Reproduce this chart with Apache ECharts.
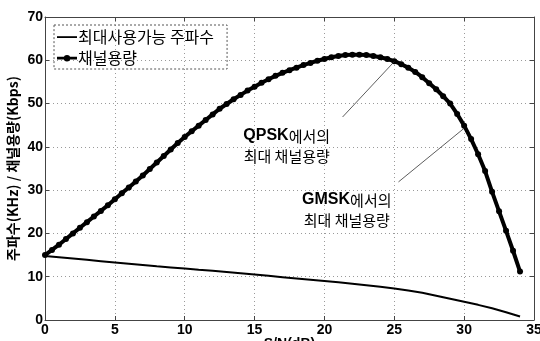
<!DOCTYPE html>
<html>
<head>
<meta charset="utf-8">
<script src="https://cdn.jsdelivr.net/npm/echarts@6/dist/echarts.min.js"></script>
<style>
  html, body { margin: 0; padding: 0; background: #fff; }
  #chart { width: 540px; height: 341px; }
</style>
</head>
<body>
<div id="chart"></div>
<script>
// S/N (dB) sample points, 0.5 dB apart
const snrDb = [
  0, 0.5, 1, 1.5, 2, 2.5, 3, 3.5, 4, 4.5, 5, 5.5, 6, 6.5, 7, 7.5, 8, 8.5, 9, 9.5,
  10, 10.5, 11, 11.5, 12, 12.5, 13, 13.5, 14, 14.5, 15, 15.5, 16, 16.5, 17, 17.5,
  18, 18.5, 19, 19.5, 20, 20.5, 21, 21.5, 22, 22.5, 23, 23.5, 24, 24.5, 25, 25.5,
  26, 26.5, 27, 27.5, 28, 28.5, 29, 29.5, 30, 30.5, 31, 31.5, 32, 32.5, 33, 33.5, 34
];

// channel capacity (Kbps)
const capacity = [
  15.0, 16.2, 17.4, 18.7, 20.0, 21.3, 22.6, 23.9, 25.2, 26.5, 27.9, 29.3, 30.6, 32.0,
  33.4, 34.9, 36.4, 37.9, 39.4, 40.9, 42.3, 43.6, 44.9, 46.2, 47.5, 48.8, 49.9, 51.0,
  52.0, 53.0, 53.9, 54.8, 55.6, 56.4, 57.1, 57.7, 58.3, 58.9, 59.4, 59.9, 60.3, 60.7,
  61.0, 61.2, 61.3, 61.3, 61.2, 61.0, 60.7, 60.3, 59.8, 59.1, 58.3, 57.3, 56.1, 54.7,
  53.3, 51.7, 50.0, 47.6, 44.9, 41.8, 38.3, 34.4, 29.6, 25.1, 20.6, 16.0, 11.2
];

// maximum usable frequency (KHz), 1 dB apart
const freqDb = [
  0, 1, 2, 3, 4, 5, 6, 7, 8, 9, 10, 11, 12, 13, 14, 15, 16, 17,
  18, 19, 20, 21, 22, 23, 24, 25, 26, 27, 28, 29, 30, 31, 32, 33, 34
];
const maxFreq = [
  14.8, 14.5, 14.2, 13.9, 13.6, 13.3, 13.0, 12.7, 12.4, 12.15, 11.9, 11.6, 11.35, 11.1,
  10.8, 10.5, 10.2, 9.9, 9.6, 9.3, 9.0, 8.7, 8.4, 8.05, 7.7, 7.3, 6.8, 6.3, 5.6, 4.9,
  4.2, 3.5, 2.7, 1.8, 0.8
];

// axis ticks
const xTicks = [0, 5, 10, 15, 20, 25, 30, 35];
const yTicks = [0, 10, 20, 30, 40, 50, 60, 70];

// legend names and axis titles
const seriesNames = ['최대사용가능 주파수', '채널용량'];
const xTitle = 'S/N(dB)';
const yTitle = '주파수(KHz) / 채널용량(Kbps)';

// callouts: pointer start, pointer end on the curve, text anchor
const qpskPointer = [[21.3, 46.9], [25.0, 59.7]];
const qpskTextAt = [17.3, 40.2];
const gmskPointer = [[25.3, 31.9], [30.0, 44.3]];
const gmskTextAt = [21.6, 25.4];
const qpskLines = [['QPSK', '에서의'], ['최대 채널용량']];
const gmskLines = [['GMSK', '에서의'], ['최대 채널용량']];

const latin = 'Liberation Sans, Arial, sans-serif';
const hangul = '"Noto Sans CJK KR", sans-serif';

// legend glyphs drawn in a 20x14 box: plain line, and line with a dot
const iconLine = 'path://M0,0 M20,14 M0,6.2 L20,6.2 L20,8 L0,8 Z';
const iconDotLine = 'path://M0,0 M20,14 M0,5.8 L7.2,5.8 L7.2,8.6 L0,8.6 Z ' +
  'M12.8,5.8 L20,5.8 L20,8.6 L12.8,8.6 Z M13.2,7.2 A3.2,3.2 0 1 1 6.8,7.2 A3.2,3.2 0 1 1 13.2,7.2 Z';

function calloutText(lines) {
  return '{a|' + lines[0][0] + '}{b|' + lines[0][1] + '}\n{b|' + lines[1][0] + '}';
}

const chart = echarts.init(document.getElementById('chart'), null, { renderer: 'canvas' });

const gridLine = { show: true, lineStyle: { color: '#9a9a9a', type: [1, 3], width: 1 } };
const frameLine = { show: true, onZero: false, lineStyle: { color: '#444', width: 1 } };
const innerTick = { show: true, inside: true, length: 4, lineStyle: { color: '#444' } };
const tickLabel = { color: '#000', fontFamily: latin, fontWeight: 'bold', fontSize: 14 };

const option = {
  backgroundColor: '#fff',
  animation: false,
  grid: { left: 45, right: 6, top: 17, bottom: 21, containLabel: false, outerBoundsMode: 'none' },
  legend: {
    orient: 'vertical',
    left: 54,
    top: 25,
    padding: [4, 13, 3, 3],
    itemGap: 5,
    itemWidth: 20,
    itemHeight: 14,
    borderColor: '#555',
    borderWidth: 1,
    borderType: [2, 2],
    textStyle: { fontFamily: hangul, fontSize: 16, color: '#000', padding: [0, 0, 0, -4] },
    data: [
      { name: seriesNames[0], icon: iconLine },
      { name: seriesNames[1], icon: iconDotLine }
    ]
  },
  xAxis: [
    {
      type: 'value', min: xTicks[0], max: xTicks[xTicks.length - 1], interval: 5,
      axisLine: frameLine,
      axisTick: innerTick,
      splitLine: gridLine,
      axisLabel: Object.assign({ margin: 3 }, tickLabel),
      name: xTitle, nameLocation: 'middle', nameGap: 17, nameMoveOverlap: false,
      nameTextStyle: { fontFamily: latin, fontWeight: 'bold', fontSize: 14, color: '#000' }
    },
    {
      type: 'value', position: 'top', min: xTicks[0], max: xTicks[xTicks.length - 1], interval: 5,
      axisLine: frameLine,
      axisTick: innerTick,
      splitLine: { show: false }, axisLabel: { show: false }
    }
  ],
  yAxis: [
    {
      type: 'value', min: yTicks[0], max: yTicks[yTicks.length - 1], interval: 10,
      axisLine: frameLine,
      axisTick: innerTick,
      splitLine: gridLine,
      axisLabel: Object.assign({ margin: 2 }, tickLabel),
      name: yTitle, nameLocation: 'middle', nameGap: 25, nameMoveOverlap: false,
      nameTextStyle: { fontFamily: hangul, fontWeight: 'bold', fontSize: 14, color: '#000' }
    },
    {
      type: 'value', position: 'right', min: yTicks[0], max: yTicks[yTicks.length - 1], interval: 10,
      axisLine: frameLine,
      axisTick: innerTick,
      splitLine: { show: false }, axisLabel: { show: false }
    }
  ],
  series: [
    {
      name: seriesNames[0],
      type: 'line',
      data: freqDb.map((x, i) => [x, maxFreq[i]]),
      symbol: 'none',
      lineStyle: { color: '#000', width: 2 },
      itemStyle: { color: '#000' },
      z: 3
    },
    {
      name: seriesNames[1],
      type: 'line',
      data: snrDb.map((x, i) => [x, capacity[i]]),
      symbol: 'circle',
      symbolSize: 6,
      showAllSymbol: true,
      lineStyle: { color: '#000', width: 4 },
      itemStyle: { color: '#000' },
      z: 4
    },
    {
      // callout pointers and their text
      type: 'line',
      data: [],
      silent: true,
      markLine: {
        silent: true,
        symbol: ['none', 'none'],
        label: { show: false },
        lineStyle: { color: '#333', width: 0.8, type: 'solid' },
        data: [
          [{ coord: qpskPointer[0] }, { coord: qpskPointer[1] }],
          [{ coord: gmskPointer[0] }, { coord: gmskPointer[1] }]
        ]
      },
      markPoint: {
        silent: true,
        symbol: 'circle',
        symbolSize: 0,
        label: {
          show: true,
          position: 'inside',
          align: 'center',
          lineHeight: 20,
          rich: {
            a: { fontFamily: latin, fontWeight: 'bold', fontSize: 16, color: '#000', lineHeight: 20 },
            b: { fontFamily: hangul, fontSize: 15, color: '#000', lineHeight: 20 }
          }
        },
        data: [
          { coord: qpskTextAt, label: { formatter: calloutText(qpskLines) } },
          { coord: gmskTextAt, label: { formatter: calloutText(gmskLines) } }
        ]
      }
    }
  ]
};

chart.setOption(option);
</script>
</body>
</html>
